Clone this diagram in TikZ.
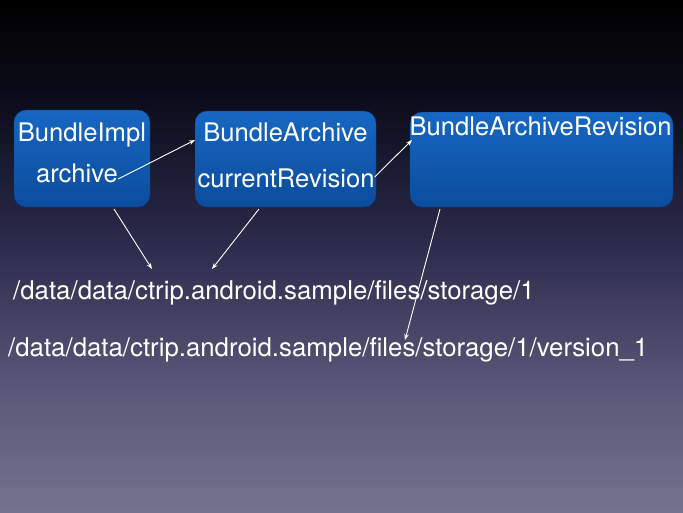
\documentclass[tikz,border=0pt]{standalone}
\usepackage{fontspec}
\setmainfont{TeX Gyre Heros}
\usepackage{tikz}
\usetikzlibrary{arrows.meta}
\definecolor{bgtop}{RGB}{5, 5, 8}
\definecolor{bgupper}{RGB}{10, 10, 24}
\definecolor{bgmid}{RGB}{42, 42, 74}
\definecolor{bglower}{RGB}{90, 88, 120}
\definecolor{bgbottom}{RGB}{116, 114, 142}
\definecolor{boxtop}{RGB}{23, 103, 194}
\definecolor{boxbottom}{RGB}{11, 76, 156}
\definecolor{boxedge}{RGB}{10, 60, 125}
\pgfdeclareverticalshading{slidebg}{100bp}{color(0bp)=(bgbottom); color(25bp)=(bgbottom); color(36.9bp)=(bglower); color(51.6bp)=(bgmid); color(66.2bp)=(bgupper); color(72.1bp)=(bgtop); color(75bp)=(black); color(100bp)=(black)}

\begin{document}
\begin{tikzpicture}[x=1pt, y=-1pt,
    classbox/.style={draw=boxedge, line width=0.4pt, rounded corners=12pt,
        top color=boxtop, bottom color=boxbottom, inner sep=0pt},
    label/.style={text=white, inner sep=0pt, font=\fontsize{25.6}{30}\selectfont},
    pathtext/.style={text=white, inner sep=0pt, anchor=base west, font=\fontsize{25.8}{30}\selectfont},
    link/.style={-{Stealth[length=6pt, width=4.5pt]}, white, line width=0.9pt}]
        % 背景
        \shade[shading=slidebg] (0,0) rectangle (683,512);
        \useasboundingbox (0,0) rectangle (683,512);

        % 三个对象
        \node[classbox, minimum width=136pt, minimum height=97pt] (impl) at (82,158.5) {};
        \node[classbox, minimum width=181pt, minimum height=96pt] (archbox) at (285.5,159) {};
        \node[classbox, minimum width=263pt, minimum height=95pt] (revbox) at (541.5,159.5) {};

        % 字段
        \node[label, anchor=base] (implname) at (82,141) {BundleImpl};
        \node[label, anchor=base] (archive) at (77,182) {archive};
        \node[label, anchor=base] (archname) at (285.5,141) {BundleArchive};
        \node[label, anchor=base] (current) at (286,187) {currentRevision};
        \node[label, anchor=base] (revname) at (540.5,135) {BundleArchiveRevision};

        % 路径
        \node[pathtext] (storage) at (13,299) {/data/data/ctrip.android.sample/files/storage/1};
        \node[pathtext] (version) at (8,356) {/data/data/ctrip.android.sample/files/storage/1/version\_1};

        % 箭头端点
        \coordinate (archin) at (195,140);
        \coordinate (revin) at (412,140);
        \coordinate (implout) at (114,209);
        \coordinate (archout) at (259,209);
        \coordinate (revout) at (440,209);
        \coordinate (storageleft) at (152,269);
        \coordinate (storageright) at (212,269);
        \coordinate (versionin) at (405,340);

        % 引用关系
        \draw[link] ([yshift=3pt]archive.base east) -- (archin);
        \draw[link] ([yshift=10pt]current.base east) -- (revin);
        \draw[link] (implout) -- (storageleft);
        \draw[link] (archout) -- (storageright);
        \draw[link] (revout) -- (versionin);
    \end{tikzpicture}
\end{document}
